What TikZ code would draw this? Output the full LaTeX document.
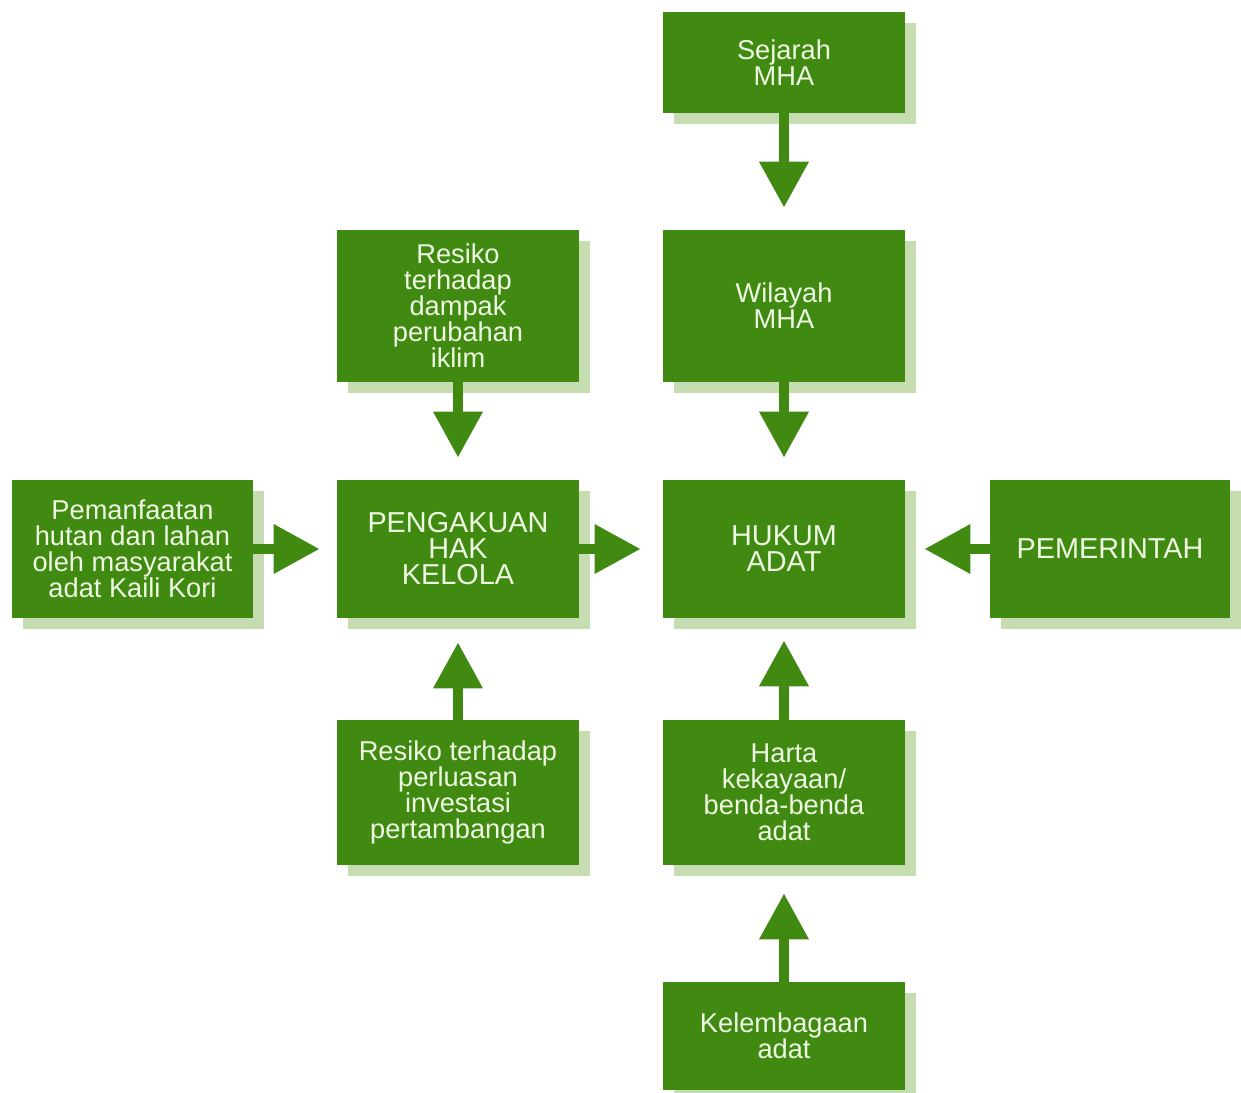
\documentclass[tikz,border=0pt]{standalone}
\usepackage{fontspec}
\setmainfont{Liberation Sans}
\setsansfont{Liberation Sans}
\usetikzlibrary{arrows.meta,positioning,shadows}
\definecolor{boxgreen}{HTML}{418A12}
\definecolor{shadegreen}{HTML}{C6DDB2}
\definecolor{textgreen}{HTML}{EEF8E2}

\begin{document}
\begin{tikzpicture}[
  font=\sffamily\fontsize{15.5}{14.8}\selectfont,
  flowbox/.style={rectangle, fill=boxgreen, text=textgreen, minimum width=4.84cm, align=center, inner sep=2pt, general shadow={fill=shadegreen, shadow xshift=0.22cm, shadow yshift=-0.22cm}},
  capsfont/.style={font=\sffamily\fontsize{16.4}{14.8}\selectfont},
  arrow/.style={-{Triangle[length=0.92cm, width=0.94cm]}, line width=0.2cm, boxgreen, shorten >=0.44cm}
]
\useasboundingbox (0,0) rectangle (24.82,-21.86);
% top column
\node[flowbox, minimum height=2.02cm] (sejarah) at (15.68,-1.25) {Sejarah\\MHA};
\node[flowbox, minimum height=3.04cm] (wilayah) at (15.68,-6.12) {Wilayah\\MHA};
\node[flowbox, minimum height=3.04cm] (dampak) at (9.16,-6.12) {Resiko\\terhadap\\dampak\\perubahan\\iklim};
% middle row
\node[flowbox, minimum width=4.82cm, minimum height=2.76cm] (pemanfaatan) at (2.65,-10.98) {Pemanfaatan\\hutan dan lahan\\oleh masyarakat\\adat Kaili Kori};
\node[flowbox, capsfont, minimum height=2.76cm] (pengakuan) at (9.16,-10.98) {PENGAKUAN\\HAK\\KELOLA};
\node[flowbox, capsfont, minimum height=2.76cm] (hukum) at (15.68,-10.98) {HUKUM\\ADAT};
\node[flowbox, capsfont, minimum width=4.8cm, minimum height=2.76cm] (pemerintah) at (22.2,-10.98) {PEMERINTAH};
% bottom rows
\node[flowbox, minimum height=2.9cm] (perluasan) at (9.16,-15.85) {Resiko terhadap\\perluasan\\investasi\\pertambangan};
\node[flowbox, minimum height=2.9cm] (harta) at (15.68,-15.85) {Harta\\kekayaan/\\benda-benda\\adat};
\node[flowbox, minimum height=2.16cm] (kelembagaan) at (15.68,-20.72) {Kelembagaan\\adat};
% arrows
\draw[arrow] (sejarah) -- (wilayah);
\draw[arrow] (wilayah) -- (hukum);
\draw[arrow] (dampak) -- (pengakuan);
\draw[arrow, shorten >=0.34cm] (pemanfaatan) -- (pengakuan);
\draw[arrow] (pengakuan) -- (hukum);
\draw[arrow, shorten >=0.38cm] (pemerintah) -- (hukum);
\draw[arrow, shorten >=0.48cm] (perluasan) -- (pengakuan);
\draw[arrow] (harta) -- (hukum);
\draw[arrow, shorten >=0.56cm] (kelembagaan) -- (harta);
\end{tikzpicture}
\end{document}
